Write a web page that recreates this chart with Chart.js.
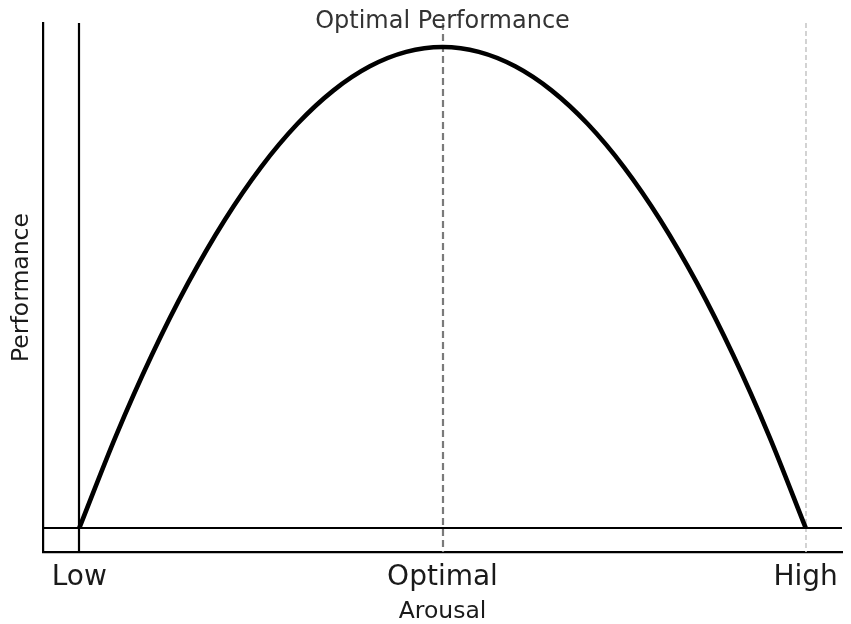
<!DOCTYPE html>
<html>
<head>
<meta charset="utf-8">
<script src="https://cdn.jsdelivr.net/npm/chart.js@4.4.1/dist/chart.umd.min.js"></script>
<style>
  html, body { margin: 0; padding: 0; background: #fff; }
  canvas { display: block; }
</style>
</head>
<body>
<canvas id="ydChart" width="851" height="624"></canvas>
<script>
// arousal (x) and performance (y)
const arousal = [0, 0.5, 1, 1.5, 2, 2.5, 3, 3.5, 4, 4.5, 5, 5.5, 6, 6.5, 7, 7.5, 8, 8.5, 9, 9.5, 10];
const performance = [0, 4.75, 9, 12.75, 16, 18.75, 21, 22.75, 24, 24.75, 25, 24.75, 24, 22.75, 21, 18.75, 16, 12.75, 9, 4.75, 0];

// x tick positions and their names
const tickValues = [0, 5, 10];
const tickLabels = ['Low', 'Optimal', 'High'];

// reference lines
const lowX = 0;
const optimalX = 5;
const highX = 10;
const baseY = 0;
const peakLabelY = 26;

const FONT = '"DejaVu Sans", sans-serif';

// dashed guides, the black axvline / axhline and the peak label
const guides = {
  id: 'guides',
  beforeDatasetsDraw(chart) {
    const { ctx, chartArea: a, scales: { x, y } } = chart;
    ctx.save();
    function vline(v, color, width, dash) {
      const px = Math.round(x.getPixelForValue(v));
      ctx.beginPath();
      ctx.strokeStyle = color;
      ctx.lineWidth = width;
      ctx.setLineDash(dash);
      ctx.moveTo(px, a.top);
      ctx.lineTo(px, a.bottom);
      ctx.stroke();
    }
    vline(optimalX, '#7a7a7a', 2.2, [7, 4]);
    vline(highX, '#c8c8c8', 1.6, [5, 3]);
    vline(lowX, '#000000', 2.2, []);

    // horizontal line at performance 0
    const py = Math.round(y.getPixelForValue(baseY));
    ctx.beginPath();
    ctx.setLineDash([]);
    ctx.strokeStyle = '#000';
    ctx.lineWidth = 2.2;
    ctx.moveTo(a.left, py);
    ctx.lineTo(a.right, py);
    ctx.stroke();
    ctx.restore();
  },
  afterDraw(chart) {
    const { ctx, scales: { x, y } } = chart;
    ctx.save();
    ctx.font = '24px ' + FONT;
    ctx.fillStyle = '#333333';
    ctx.textAlign = 'center';
    ctx.textBaseline = 'alphabetic';
    ctx.fillText('Optimal Performance', x.getPixelForValue(optimalX), y.getPixelForValue(peakLabelY));
    ctx.restore();
  }
};

const ctx = document.getElementById('ydChart').getContext('2d');
const ydChart = new Chart(ctx, {
  type: 'line',
  data: {
    datasets: [{
      label: 'Performance',
      data: arousal.map((a, i) => ({ x: a, y: performance[i] })),
      borderColor: '#000',
      borderWidth: 4.6,
      pointRadius: 0,
      cubicInterpolationMode: 'monotone',
      fill: false
    }]
  },
  options: {
    responsive: false,
    animation: false,
    layout: { padding: { top: 23, right: 9, left: 0, bottom: 0 } },
    plugins: {
      legend: { display: false },
      tooltip: { enabled: false }
    },
    scales: {
      x: {
        type: 'linear',
        min: -0.5,
        max: 10.5,
        grid: { display: false, drawTicks: false },
        border: { display: true, color: '#000', width: 2.2 },
        afterBuildTicks(scale) {
          scale.ticks = tickValues.map(v => ({ value: v }));
        },
        afterFit(scale) { scale.height = 72; },
        ticks: {
          padding: 9,
          color: '#1a1a1a',
          font: { family: FONT, size: 28 },
          maxRotation: 0,
          autoSkip: false,
          callback(value) {
            const i = tickValues.indexOf(value);
            return i >= 0 ? tickLabels[i] : '';
          }
        },
        title: {
          display: true,
          text: 'Arousal',
          color: '#1a1a1a',
          font: { family: FONT, size: 23.5 },
          padding: { top: 0, bottom: -2 }
        }
      },
      y: {
        min: -1.25,
        max: 26.25,
        grid: { display: false, drawTicks: false },
        border: { display: true, color: '#000', width: 2.2 },
        ticks: { display: false },
        afterFit(scale) { scale.width = 43; },
        title: {
          display: true,
          text: 'Performance',
          color: '#1a1a1a',
          font: { family: FONT, size: 23.5 },
          padding: { top: 8, bottom: 0 }
        }
      }
    }
  },
  plugins: [guides]
});
</script>
</body>
</html>
